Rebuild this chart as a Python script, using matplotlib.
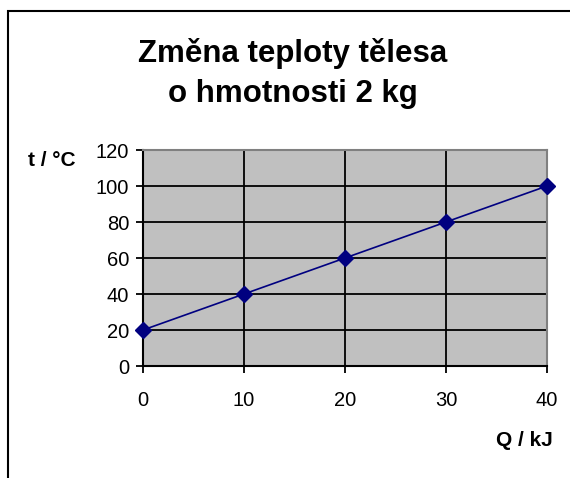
import matplotlib
matplotlib.use("Agg")
import matplotlib.pyplot as plt
from matplotlib.patches import Rectangle

plt.rcParams['font.family'] = ['Liberation Sans', 'DejaVu Sans']

# data
Q = [0, 10, 20, 30, 40]
t = [20, 40, 60, 80, 100]
xticks = [0, 10, 20, 30, 40]
yticks = [0, 20, 40, 60, 80, 100, 120]

W, H = 570, 478
fig = plt.figure(figsize=(W / 100, H / 100), dpi=100)

# outer chart frame (cut off at right and bottom)
fig.patches.append(Rectangle((8 / W, -0.1), 1.2, 1.1 - 11 / H, transform=fig.transFigure,
                             fill=False, edgecolor='black', linewidth=1.5, clip_on=False))

ax = fig.add_axes([143 / W, (H - 366) / H, (547 - 143) / W, (366 - 150) / H])
ax.set_facecolor('#C0C0C0')
ax.plot(Q, t, color='#000080', linewidth=1.2, marker='D', markersize=8,
        markerfacecolor='#000080', markeredgecolor='#000080', clip_on=False, zorder=5)

ax.set_xlim(0, 40)
ax.set_ylim(0, 120)
ax.set_xticks(xticks)
ax.set_yticks(yticks)
ax.grid(True, color='black', linewidth=1.3)
ax.set_axisbelow(True)
ax.tick_params(direction='out', length=5, width=1.3, labelsize=14.5, pad=5)
ax.tick_params(axis='x', pad=13)
for s in ['left', 'bottom']:
    ax.spines[s].set_color('black')
    ax.spines[s].set_linewidth(1.5)
for s in ['top', 'right']:
    ax.spines[s].set_color('#808080')
    ax.spines[s].set_linewidth(1.5)

fig.text(293 / W, 1 - 62 / H, 'Změna teploty tělesa', ha='center', va='baseline',
         fontsize=22.5, fontweight='bold')
fig.text(293 / W, 1 - 102 / H, 'o hmotnosti 2 kg', ha='center', va='baseline',
         fontsize=22.5, fontweight='bold')
fig.text(28 / W, 1 - 161 / H, 't / °C', ha='left', va='center', fontsize=15, fontweight='bold')
fig.text(553 / W, 1 - 440 / H, 'Q / kJ', ha='right', va='center', fontsize=15, fontweight='bold')

fig.savefig('out.png', dpi=100)
